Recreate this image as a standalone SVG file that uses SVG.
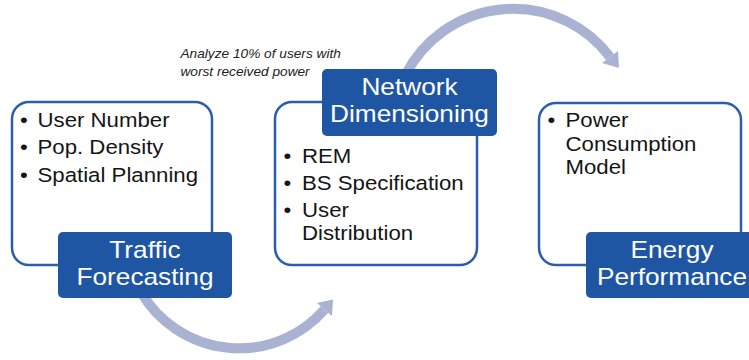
<svg xmlns="http://www.w3.org/2000/svg" width="749" height="360" viewBox="0 0 749 360">
<style>
.card{fill:#fff;stroke:#2C5DAA;stroke-width:2.5}
.tag{fill:#1E56A3}
.b{font-family:"Liberation Sans",Arial,sans-serif;font-size:19.5px;fill:#151515}
.t{font-family:"Liberation Sans",Arial,sans-serif;font-size:23px;fill:#fff;text-anchor:middle}
.n{font-family:"Liberation Sans",Arial,sans-serif;font-size:12px;font-style:italic;fill:#222}
.arc{fill:none;stroke:#AAB2D4;stroke-width:10}
.head{fill:#AAB2D4}
</style>
<rect width="749" height="360" fill="#fff"/>
<g id="connectors">
  <path class="arc" d="M406,74 A121 121 0 0 1 610,57"/>
  <polygon class="head" points="618,51 602,63 619,68"/>
  <path class="arc" d="M141,292 A113.5 113.5 0 0 0 324.5,309.5"/>
  <polygon class="head" points="317,303 332,316 333,299.5"/>
</g>
<g id="annotation">
  <text class="n" transform="translate(180.5 58) scale(1.14 1)">Analyze 10% of users with</text>
  <text class="n" transform="translate(180.5 76) scale(1.14 1)">worst received power</text>
</g>
<g id="traffic-forecasting">
  <rect class="card" x="12" y="102" width="200" height="163" rx="17"/>
  <text class="b" transform="translate(20 126.7) scale(1.14 1)">•</text>
  <text class="b" transform="translate(37.5 126.7) scale(1.14 1)">User Number</text>
  <text class="b" transform="translate(20 154.3) scale(1.14 1)">•</text>
  <text class="b" transform="translate(37.5 154.3) scale(1.14 1)">Pop. Density</text>
  <text class="b" transform="translate(20 182) scale(1.14 1)">•</text>
  <text class="b" transform="translate(37.5 182) scale(1.14 1)">Spatial Planning</text>
  <rect class="tag" x="58" y="232" width="174" height="66" rx="5"/>
  <text class="t" transform="translate(145 258) scale(1.14 1)">Traffic</text>
  <text class="t" transform="translate(145 284.5) scale(1.14 1)">Forecasting</text>
</g>
<g id="network-dimensioning">
  <rect class="card" x="275" y="102" width="202" height="163" rx="17"/>
  <text class="b" transform="translate(283.5 162.5) scale(1.14 1)">•</text>
  <text class="b" transform="translate(302 162.5) scale(1.14 1)">REM</text>
  <text class="b" transform="translate(283.5 189.5) scale(1.14 1)">•</text>
  <text class="b" transform="translate(302 189.5) scale(1.14 1)">BS Specification</text>
  <text class="b" transform="translate(283.5 216.5) scale(1.14 1)">•</text>
  <text class="b" transform="translate(302 216.5) scale(1.14 1)">User</text>
  <text class="b" transform="translate(302 240) scale(1.14 1)">Distribution</text>
  <rect class="tag" x="322" y="69" width="175" height="67" rx="5"/>
  <text class="t" transform="translate(409.5 95) scale(1.14 1)">Network</text>
  <text class="t" transform="translate(409.5 122) scale(1.14 1)">Dimensioning</text>
</g>
<g id="energy-performance">
  <rect class="card" x="539" y="103" width="202" height="162" rx="17"/>
  <text class="b" transform="translate(547.5 127) scale(1.14 1)">•</text>
  <text class="b" transform="translate(565.5 127) scale(1.14 1)">Power</text>
  <text class="b" transform="translate(565.5 150.5) scale(1.14 1)">Consumption</text>
  <text class="b" transform="translate(565.5 174) scale(1.14 1)">Model</text>
  <rect class="tag" x="586" y="232" width="174" height="66" rx="5"/>
  <text class="t" transform="translate(672 258) scale(1.14 1)">Energy</text>
  <text class="t" transform="translate(672 284.5) scale(1.14 1)">Performance</text>
</g>
</svg>
